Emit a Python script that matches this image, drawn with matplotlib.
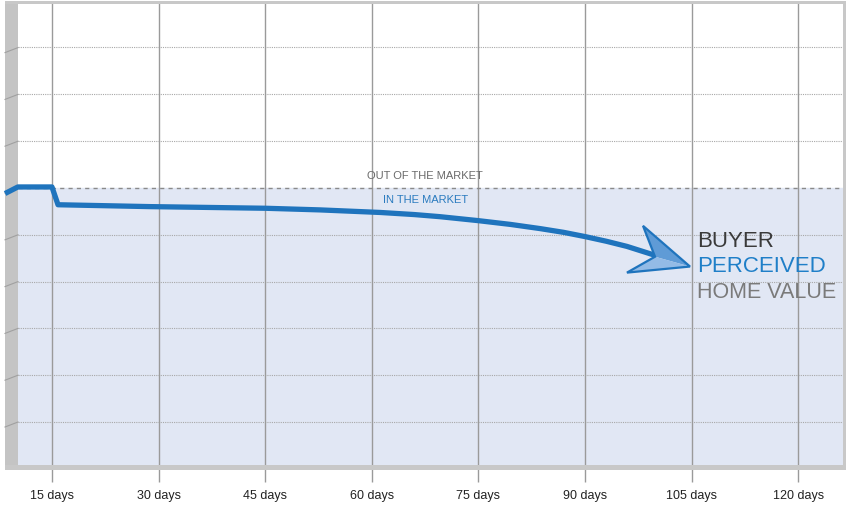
import numpy as np
import matplotlib.pyplot as plt
from matplotlib.patches import Polygon, Rectangle
from matplotlib.lines import Line2D

# x positions in days, y in grid units (one unit per dotted gridline)
tick_days = [15, 30, 45, 60, 75, 90, 105, 120]
tick_labels = ['15 days', '30 days', '45 days', '60 days', '75 days', '90 days', '105 days', '120 days']
grid_levels = [1, 2, 3, 4, 5, 7, 8, 9]
market_level = 6.0

line_days = [8.4, 10.2, 15.0, 15.85, 28.8, 35.8, 45.0, 52.7, 61.2, 66.0, 69.6, 75.0, 79.5, 83.7,
             87.0, 90.0, 93.0, 95.9, 99.85]
line_values = [5.88, 6.02, 6.02, 5.64, 5.60, 5.585, 5.565, 5.53, 5.475, 5.43, 5.385, 5.30, 5.22, 5.13,
               5.05, 4.96, 4.86, 4.75, 4.56]

# arrow head: tip, upper barb, notch, lower barb
head_days = [104.77, 98.16, 99.85, 95.9]
head_values = [4.32, 5.19, 4.53, 4.19]

W, H = 850, 507
fig = plt.figure(figsize=(W / 100, H / 100), dpi=100)
fig.patch.set_facecolor('white')


def fx(px):
    return px / W


def fy(py):
    return 1 - py / H


ax = fig.add_axes([fx(18), fy(465), (843 - 18) / W, (465 - 3) / H])
ax.set_xlim(10.22, 126.3)
ax.set_ylim(0.08, 9.95)
ax.set_facecolor('white')
for s in ax.spines.values():
    s.set_visible(False)

# shaded "in the market" region
ax.axhspan(0.08, market_level, color='#e1e7f4', zorder=0)

# gridlines
for g in grid_levels:
    ax.axhline(g, color='#a8a8a8', lw=0.8, ls=(0, (1, 1)), zorder=1)
for d in tick_days:
    ax.axvline(d, color='#9a9a9a', lw=1.0, zorder=1)
ax.axhline(market_level, color='#8a8a8a', lw=1.0, ls=(0, (3, 3)), zorder=1)

ax.set_xticks(tick_days)
ax.set_xticklabels(tick_labels, fontsize=9, color='#222222', family=['Liberation Sans', 'DejaVu Sans'])
ax.tick_params(axis='x', length=12, width=1.0, color='#9a9a9a', pad=6)
ax.set_yticks([])

ax.text(67.5, 6.26, 'OUT OF THE MARKET', fontsize=8, color='#6a6a6a', ha='center', va='center',
        family=['Liberation Sans', 'DejaVu Sans'])
ax.text(67.5, 5.74, 'IN THE MARKET', fontsize=8, color='#2a7bbf', ha='center', va='center',
        family=['Liberation Sans', 'DejaVu Sans'])

# 3D-ish frame: left wall, floor, top and right borders
frame = dict(transform=fig.transFigure, edgecolor='none', clip_on=False, zorder=3)
ax.add_patch(Rectangle((fx(5), fy(470)), fx(13), (470 - 3) / H, facecolor='#c4c4c4', **frame))
ax.add_patch(Rectangle((fx(5), fy(470)), fx(841), 5 / H, facecolor='#c8c8c8', **frame))
ax.add_patch(Rectangle((fx(5), fy(4)), fx(841), 3 / H, facecolor='#c8c8c8', **frame))
ax.add_patch(Rectangle((fx(843), fy(470)), fx(3), (470 - 1) / H, facecolor='#c8c8c8', **frame))
for g in grid_levels + [market_level]:
    gy = 468.8 - g * 46.8
    ax.add_line(Line2D([fx(5), fx(18)], [fy(gy + 5), fy(gy)], transform=fig.transFigure,
                       color='#a0a0a0', lw=0.8, clip_on=False, zorder=3.5))

# the value line and arrow head
ax.plot(line_days, line_values, color='#1f74bd', lw=3.8, solid_joinstyle='round',
        solid_capstyle='butt', clip_on=False, zorder=4)
tip = (head_days[0], head_values[0])
upper = (head_days[1], head_values[1])
notch = (head_days[2], head_values[2])
lower = (head_days[3], head_values[3])
ax.add_patch(Polygon([tip, upper, notch], closed=True, facecolor='#5f9bd6', edgecolor='none', zorder=5))
ax.add_patch(Polygon([tip, notch, lower], closed=True, facecolor='#93bbe6', edgecolor='none', zorder=5))
ax.add_patch(Polygon([tip, upper, notch, lower], closed=True, facecolor='none', edgecolor='#1f74bd',
                     lw=1.6, joinstyle='miter', zorder=6))

label_font = ['Liberation Sans', 'DejaVu Sans']
ax.text(105.75, 4.85, 'BUYER', fontsize=16, color='#3a3a3a', ha='left', va='center', family=label_font)
ax.text(105.75, 4.31, 'PERCEIVED', fontsize=16, color='#1f7fc8', ha='left', va='center', family=label_font)
ax.text(105.75, 3.76, 'HOME VALUE', fontsize=15.5, color='#7a7a7a', ha='left', va='center',
        family=label_font)

fig.savefig('out.png', dpi=100)
